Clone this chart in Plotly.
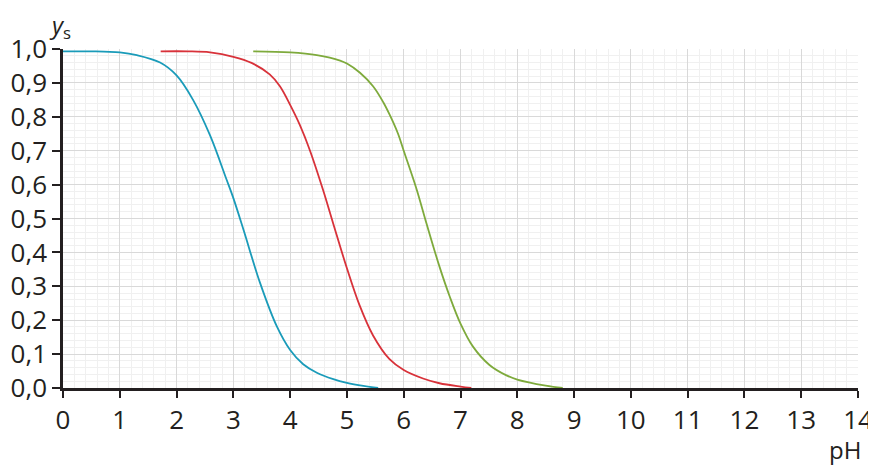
import plotly.graph_objects as go

# Data
blue_ph = [0, 0.5, 1.0, 1.3, 1.71, 2.0, 2.29, 2.59, 2.88, 3.0, 3.18, 3.47, 3.77, 4.0, 4.23, 4.47, 4.76, 5.0, 5.29, 5.55]
blue_ys = [0.993, 0.993, 0.99, 0.982, 0.96, 0.922, 0.85, 0.745, 0.615, 0.56, 0.466, 0.31, 0.18, 0.112, 0.07, 0.045, 0.026, 0.015, 0.006, 0.0]

red_ph = [1.72, 2.2, 2.59, 3.0, 3.32, 3.64, 3.82, 4.0, 4.17, 4.35, 4.58, 4.75, 5.0, 5.22, 5.46, 5.75, 6.0, 6.34, 6.63, 7.0, 7.19]
red_ys = [0.993, 0.993, 0.99, 0.977, 0.959, 0.925, 0.89, 0.835, 0.776, 0.70, 0.584, 0.49, 0.353, 0.245, 0.155, 0.085, 0.053, 0.028, 0.014, 0.004, 0.0]

green_ph = [3.35, 4.0, 4.47, 4.88, 5.0, 5.23, 5.46, 5.64, 5.75, 5.9, 6.0, 6.22, 6.4, 6.63, 6.81, 7.0, 7.22, 7.51, 7.8, 8.0, 8.5, 8.8]
green_ys = [0.993, 0.99, 0.982, 0.966, 0.957, 0.93, 0.89, 0.843, 0.807, 0.75, 0.70, 0.59, 0.486, 0.358, 0.27, 0.19, 0.122, 0.068, 0.038, 0.025, 0.007, 0.0]

x_ticks = list(range(0, 15))
y_ticks = [i / 10 for i in range(0, 11)]
y_tick_labels = [f"{v:.1f}".replace(".", ",") for v in y_ticks]

FONT = "Open Sans"
TXT = "#231f20"

fig = go.Figure()
for xs, ys, col in [(blue_ph, blue_ys, "#1a9bb9"),
                    (red_ph, red_ys, "#d8323a"),
                    (green_ph, green_ys, "#7eaa3c")]:
    fig.add_trace(go.Scatter(x=xs, y=ys, mode="lines",
                             line=dict(color=col, width=1.8, shape="spline", smoothing=1.0),
                             showlegend=False, hoverinfo="skip"))

# the page body has an 8px margin, so the figure is sized to fit the rest of the window
fig.update_layout(
    template="none",
    width=868, height=458,
    margin=dict(l=55, r=18, t=41, b=78, autoexpand=False),
    paper_bgcolor="white", plot_bgcolor="white",
    font=dict(family=FONT, color=TXT, size=26),
    xaxis=dict(range=[0, 14], tickmode="array", tickvals=x_ticks,
               ticktext=[str(v) for v in x_ticks], automargin=False,
               showline=True, linecolor=TXT, linewidth=2.5,
               ticks="outside", ticklen=7, tickwidth=1.5, tickcolor=TXT,
               showgrid=True, gridcolor="#d9d9d9", gridwidth=1.2,
               zeroline=False, fixedrange=True,
               minor=dict(dtick=0.2, showgrid=True, gridcolor="#f0f0f0", gridwidth=1, ticks="")),
    yaxis=dict(range=[0, 1.0], tickmode="array", tickvals=y_ticks, ticktext=y_tick_labels,
               automargin=False,
               showline=True, linecolor=TXT, linewidth=2.5,
               ticks="outside", ticklen=8, tickwidth=1.5, tickcolor=TXT,
               showgrid=True, gridcolor="#d9d9d9", gridwidth=1.2,
               zeroline=False, fixedrange=True,
               minor=dict(dtick=0.02, showgrid=True, gridcolor="#f0f0f0", gridwidth=1, ticks="")),
    annotations=[
        dict(text="<i>y</i><sub>s</sub>", xref="paper", yref="paper", x=0, y=1.0,
             xanchor="left", yanchor="middle", xshift=-16, yshift=23, showarrow=False,
             font=dict(family=FONT, size=24, color=TXT)),
        dict(text="pH", xref="paper", yref="paper", x=1.0, y=0, xanchor="right",
             yanchor="middle", xshift=5, yshift=-61, showarrow=False,
             font=dict(family=FONT, size=24, color=TXT)),
    ],
)

fig.write_html("out.html")
